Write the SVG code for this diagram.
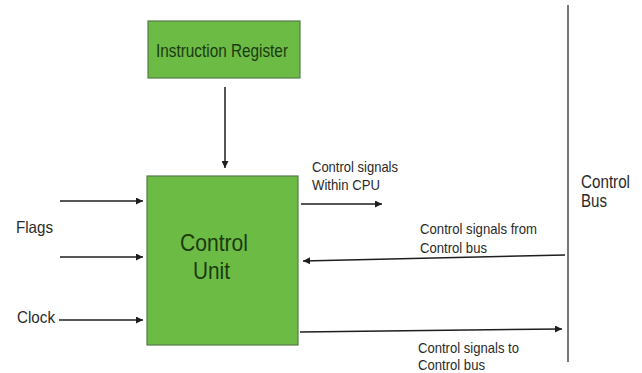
<svg xmlns="http://www.w3.org/2000/svg" width="642" height="373" viewBox="0 0 642 373">
<style>
.box{fill:#6cbb45;stroke:#557a4a;stroke-width:1.2}
.bt{font-family:"Liberation Sans",Arial,sans-serif;fill:#1b3a10}
.lb{font-family:"Liberation Sans",Arial,sans-serif;fill:#2a2a2a}
.ln{stroke:#1e1e1e;stroke-width:1.5;fill:none}
</style>
<defs>
<marker id="ah" viewBox="0 0 10 10" refX="10" refY="5" markerWidth="9" markerHeight="7" markerUnits="userSpaceOnUse" orient="auto">
<path d="M0,0 L10,5 L0,10 z" fill="#1e1e1e"/>
</marker>
</defs>
<rect width="642" height="373" fill="#ffffff"/>
<g id="instruction-register">
<rect class="box" x="148" y="21" width="152" height="57"/>
<text class="bt" x="156" y="57" font-size="18.5" textLength="132" lengthAdjust="spacingAndGlyphs">Instruction Register</text>
</g>
<g id="control-unit">
<rect class="box" x="147" y="176" width="151" height="169"/>
<text class="bt" x="180" y="251" font-size="24.5" textLength="68" lengthAdjust="spacingAndGlyphs">Control</text>
<text class="bt" x="193" y="279" font-size="24.5" textLength="37" lengthAdjust="spacingAndGlyphs">Unit</text>
</g>
<g id="control-bus">
<line x1="568" y1="5" x2="568" y2="362" stroke="#555555" stroke-width="1.6"/>
<text class="lb" x="581" y="188" font-size="19" textLength="49" lengthAdjust="spacingAndGlyphs">Control</text>
<text class="lb" x="581" y="207" font-size="19" textLength="26" lengthAdjust="spacingAndGlyphs">Bus</text>
</g>
<g id="labels">
<text class="lb" x="16" y="233" font-size="16.5" textLength="37" lengthAdjust="spacingAndGlyphs">Flags</text>
<text class="lb" x="17" y="323" font-size="16.5" textLength="38" lengthAdjust="spacingAndGlyphs">Clock</text>
<text class="lb" x="312" y="172" font-size="15" textLength="86" lengthAdjust="spacingAndGlyphs">Control signals</text>
<text class="lb" x="312" y="190" font-size="15" textLength="68" lengthAdjust="spacingAndGlyphs">Within CPU</text>
<text class="lb" x="420" y="234" font-size="15" textLength="117" lengthAdjust="spacingAndGlyphs">Control signals from</text>
<text class="lb" x="420" y="253" font-size="15" textLength="67" lengthAdjust="spacingAndGlyphs">Control bus</text>
<text class="lb" x="418" y="353" font-size="15" textLength="101" lengthAdjust="spacingAndGlyphs">Control signals to</text>
<text class="lb" x="418" y="370" font-size="15" textLength="67" lengthAdjust="spacingAndGlyphs">Control bus</text>
</g>
<g id="connectors">
<line class="ln" x1="225" y1="87" x2="225" y2="168" marker-end="url(#ah)"/>
<line class="ln" x1="60" y1="201" x2="143" y2="201" marker-end="url(#ah)"/>
<line class="ln" x1="60" y1="257" x2="143" y2="257" marker-end="url(#ah)"/>
<line class="ln" x1="59" y1="320" x2="143" y2="320" marker-end="url(#ah)"/>
<line class="ln" x1="301" y1="204" x2="382" y2="204" marker-end="url(#ah)"/>
<line class="ln" x1="565" y1="255" x2="303" y2="261" marker-end="url(#ah)"/>
<line class="ln" x1="300" y1="332" x2="562" y2="329" marker-end="url(#ah)"/>
</g>
</svg>
